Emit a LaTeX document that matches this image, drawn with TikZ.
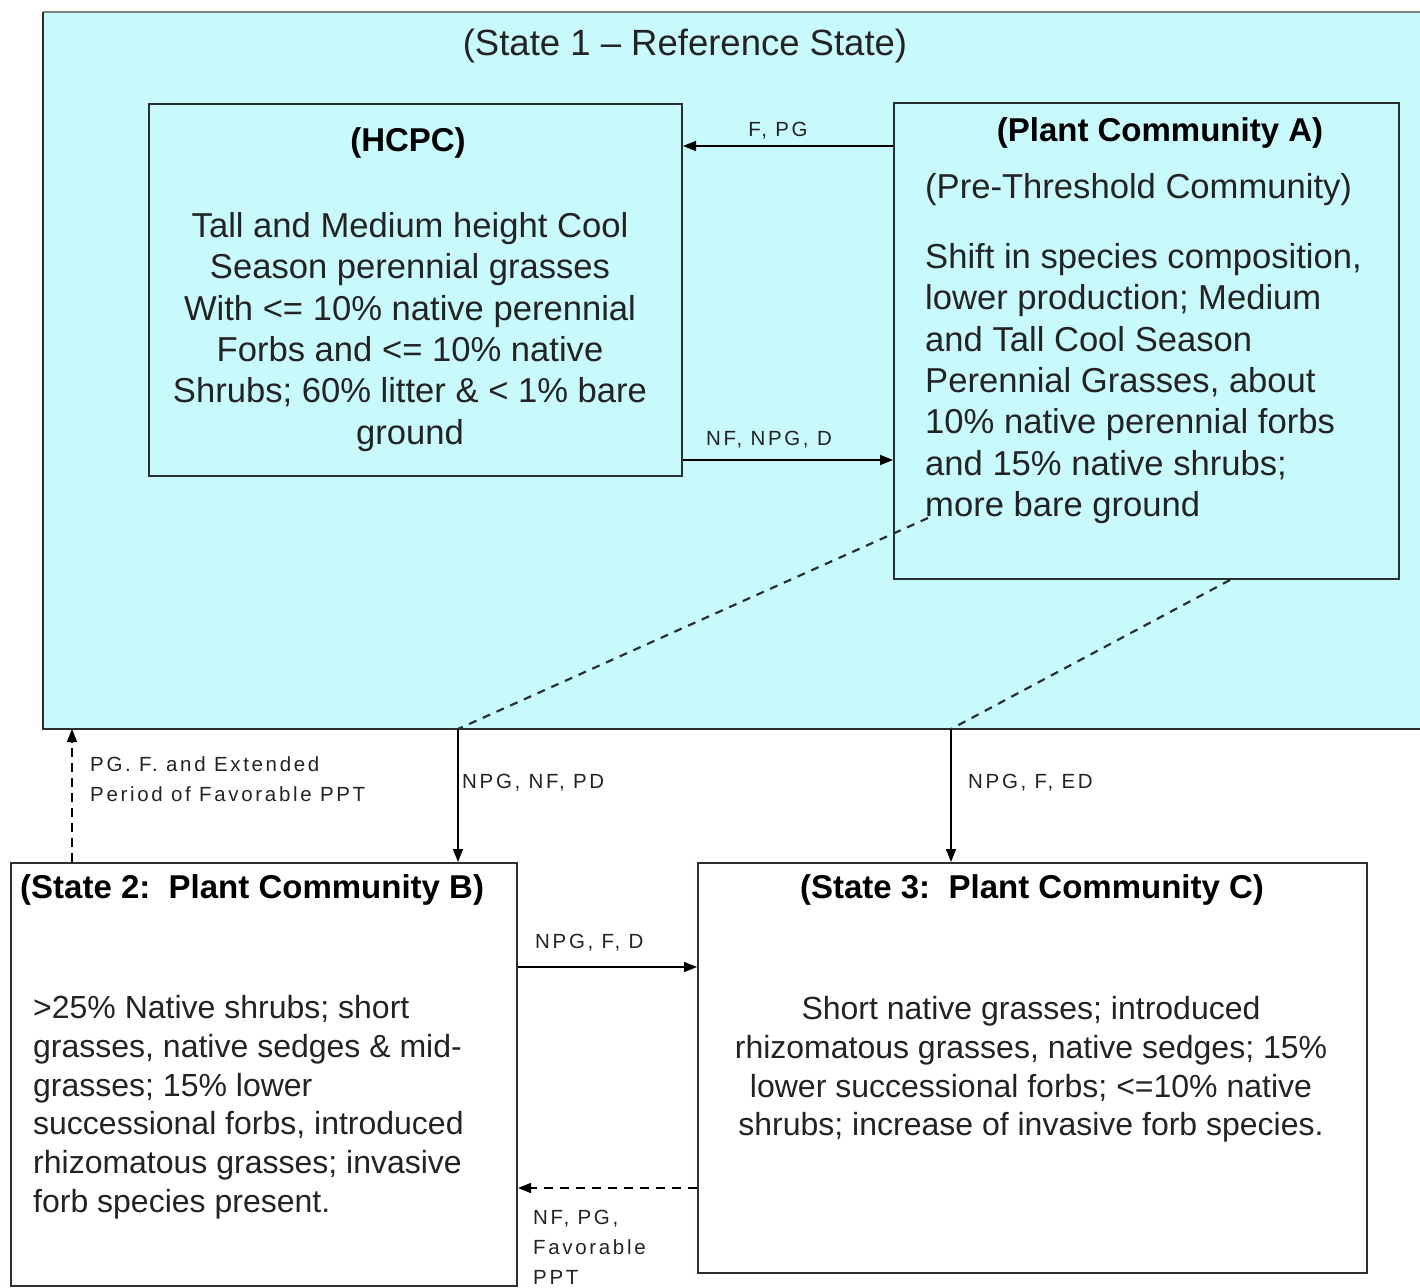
\documentclass[tikz,border=0pt]{standalone}
\usepackage{fontspec}
\setmainfont{Liberation Sans}
\usetikzlibrary{arrows.meta,calc}
\definecolor{skyfill}{RGB}{200,250,251}
\definecolor{edge}{RGB}{40,48,48}
\definecolor{ink}{RGB}{35,35,35}
\tikzset{
  box/.style={draw=edge,line width=2pt,anchor=north west,inner sep=0pt,rectangle},
  body/.style={text=ink,inner sep=0pt,font=\fontsize{34.6}{41.4}\selectfont},
  head/.style={text=black,inner sep=0pt,font=\fontsize{33}{40}\selectfont\bfseries},
  lab/.style={text=ink,inner sep=0pt,font=\fontsize{20.5}{30}\selectfont\addfontfeature{LetterSpace=13}},
  arr/.style={draw=black,line width=1.6pt,-{Triangle[length=13pt,width=10pt]}},
  dline/.style={draw=edge,line width=2.2pt,dash pattern=on 8pt off 7pt},
}
\begin{document}
\begin{tikzpicture}[x=1pt,y=-1pt]
\useasboundingbox (0,0) rectangle (1420,1287);
% outer state 1 box
\node[box,fill=skyfill,draw=none,minimum width=1400pt,minimum height=715pt] (s1) at (43,12) {};
\draw[line width=1.8pt,draw=gray] (s1.north east) -- (s1.north west);
\draw[line width=2pt,draw=edge] (s1.north west) -- (s1.south west) -- (s1.south east);
\node[body,font=\fontsize{36.5}{42}\selectfont,anchor=center] (t1) at (685,46) {(State 1 -- Reference State)};
% HCPC
\node[box,minimum width=533pt,minimum height=372pt] (hc) at (148,103) {};
\node[head,anchor=center] (hch) at (408,143) {(HCPC)};
\node[body,anchor=north,align=center] (hcb) at (410,212) {Tall and Medium height Cool\\Season perennial grasses\\With <= 10\% native perennial\\Forbs and <= 10\% native\\Shrubs; 60\% litter \& < 1\% bare\\ground};
% Plant community A
\node[box,minimum width=505pt,minimum height=476pt] (pa) at (893,102) {};
\node[head,anchor=center] (pah) at (1160,133) {(Plant Community A)};
\node[body,anchor=west] (pas) at (925,190) {(Pre-Threshold Community)};
\node[body,anchor=north west,align=left] (pab) at (925,243) {Shift in species composition,\\lower production; Medium\\and Tall Cool Season\\Perennial Grasses, about\\10\% native perennial forbs\\and 15\% native shrubs;\\more bare ground};
% State 2
\node[box,fill=white,minimum width=506pt,minimum height=423pt] (s2) at (10,862) {};
\node[head,anchor=west] (s2h) at (20,890) {(State 2:\ \ Plant Community B)};
\node[body,font=\fontsize{32}{38.8}\selectfont,anchor=north west,align=left] (s2b) at (33,995) {>25\% Native shrubs; short\\grasses, native sedges \& mid-\\grasses; 15\% lower\\successional forbs, introduced\\rhizomatous grasses; invasive\\forb species present.};
% State 3
\node[box,fill=white,minimum width=669pt,minimum height=410pt] (s3) at (697,862) {};
\node[head,anchor=center] (s3h) at (1032,890) {(State 3:\ \ Plant Community C)};
\node[body,font=\fontsize{32}{38.8}\selectfont,anchor=north,align=center] (s3b) at (1031,996) {Short native grasses; introduced\\rhizomatous grasses, native sedges; 15\%\\lower successional forbs; <=10\% native\\shrubs; increase of invasive forb species.};
% connectors inside state 1
\draw[arr] (pa.west |- 0,146) -- (hc.east |- 0,146);
\node[lab,anchor=center] (l1) at (778,131) {F, PG};
\draw[arr] (hc.east |- 0,460) -- (pa.west |- 0,460);
\node[lab,anchor=center] (l2) at (769,440) {NF, NPG, D};
% dashed threshold lines
\coordinate (da) at (928,518);
\coordinate (db) at (pa.south west -| 1230,0);
\coordinate (c2) at (s1.south west -| 458,0);
\coordinate (c3) at (s1.south west -| 951,0);
\draw[dline] (da) -- (c2);
\draw[dline] (db) -- (c3);
\draw[arr] (c2) -- (s2.north -| c2);
\draw[arr] (c3) -- (s3.north -| c3);
\node[lab,anchor=west] (l3) at (462,783) {NPG, NF, PD};
\node[lab,anchor=west] (l4) at (968,783) {NPG, F, ED};
% restoration to state 1
\coordinate (c1) at (s2.north west -| 72,0);
\draw[arr,dash pattern=on 9pt off 6pt] (c1) -- (s1.south west -| c1);
\node[lab,anchor=north west,align=left] (l5) at (90,756) {PG. F. and Extended\\Period of Favorable PPT};
% between states 2 and 3
\draw[arr] (s2.east |- 0,967) -- (s3.west |- 0,967);
\node[lab,anchor=west] (l6) at (535,943) {NPG, F, D};
\draw[arr,dash pattern=on 9pt off 7pt] (s3.west |- 0,1188) -- (s2.east |- 0,1188);
\node[lab,anchor=north west,align=left] (l7) at (533,1210) {NF, PG,\\Favorable\\PPT};
\end{tikzpicture}
\end{document}
